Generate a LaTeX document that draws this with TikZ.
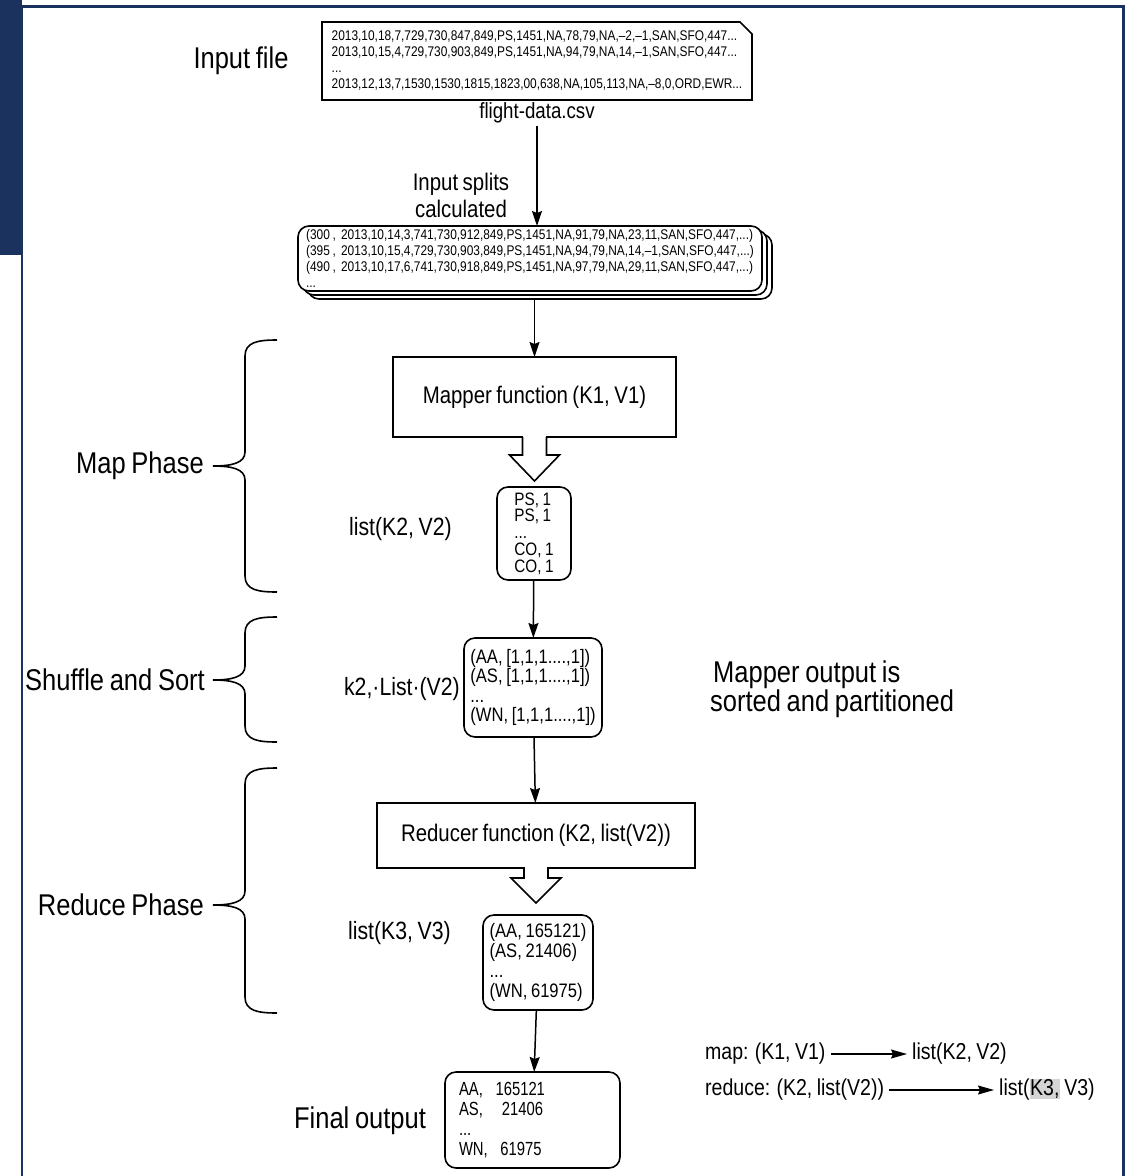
\documentclass[tikz,border=0pt]{standalone}
\usepackage{fontspec}
\setmainfont{Liberation Sans}[FakeStretch=0.85,WordSpace=0.8]
\newfontfamily\boxfont{Liberation Sans}[FakeStretch=0.78,WordSpace=0.8]
\usetikzlibrary{arrows.meta}
\definecolor{framenavy}{HTML}{1C325E}
\definecolor{markgray}{HTML}{D4D4D4}
\newcommand{\fsz}[2]{\fontsize{#1pt}{#2pt}\selectfont}
% curly brace opening to the right: top y, tip y, bottom y
\newcommand{\phasebrace}[3]{%
  \draw[bracepen] (277,#1) .. controls (258,#1) and (245,#1+2) .. (245,#1+16)
    -- (245,#2-14) .. controls (245,#2-3) and (232,#2) .. (213,#2)
    .. controls (232,#2) and (245,#2+3) .. (245,#2+14)
    -- (245,#3-16) .. controls (245,#3-2) and (258,#3) .. (277,#3);}
% open block arrow hanging under a box: node, stem length, head length
\newcommand{\hollowarrow}[3]{%
  \fill[white] ([xshift=-11.2pt,yshift=1.2pt]#1.south) rectangle ++(22.4,2.4);
  \draw[boxpen,fill=white] ([xshift=-12pt]#1.south) -- ++(0,#2) -- ++(-13,0)
    -- ++(25,#3) -- ++(25,-#3) -- ++(-13,0) -- ++(0,-#2);}
\begin{document}
\begin{tikzpicture}[x=1pt,y=-1pt,
  boxpen/.style={draw=black,line width=1.6pt},
  plainbox/.style={boxpen,fill=white,inner ysep=0pt,outer sep=0pt},
  roundbox/.style={plainbox,rounded corners=11pt},
  bigtext/.style={font=\fsz{30}{34},inner sep=0pt},
  sidelabel/.style={font=\fsz{25}{30},inner sep=0pt,anchor=east},
  formula/.style={font=\fsz{23}{27},inner xsep=5pt,inner ysep=0pt,anchor=west},
  flow/.style={line width=1.5pt,-{Stealth[length=15pt,width=10pt,inset=2pt]}},
  maparrow/.style={line width=1.4pt,-{Stealth[length=16pt,width=9pt,inset=2pt]}},
  datatext/.style={font=\fsz{14}{16},align=left},
  bracepen/.style={line width=1.6pt},
]
\useasboundingbox (0,0) rectangle (1140,1176);

% page frame
\fill[framenavy] (0,0) rectangle (22,255);
\draw[framenavy,line width=3pt] (0,6) -- (1123,6) -- (1123,1176);
\draw[framenavy,line width=2.5pt] (22,6) -- (22,1176);

% input file
\node[bigtext] (inlbl) at (241,61) {Input file};
\node[datatext,inner xsep=5pt,inner ysep=0pt,minimum width=430pt,minimum height=78pt,outer sep=0pt] (infile) at (537,61)
  {2013,10,18,7,729,730,847,849,PS,1451,NA,78,79,NA,–2,–1,SAN,SFO,447...\\
   2013,10,15,4,729,730,903,849,PS,1451,NA,94,79,NA,14,–1,SAN,SFO,447...\\
   ...\\
   2013,12,13,7,1530,1530,1815,1823,00,638,NA,105,113,NA,–8,0,ORD,EWR...};
\draw[boxpen] (infile.south west) -- (infile.north west) -- ([xshift=-12pt]infile.north east)
  -- ([yshift=-12pt]infile.north east) -- (infile.south east) -- cycle;
\node[font=\fsz{22}{26},inner sep=3pt] (fname) at (537,113) {flight-data.csv};

% input splits
\node[font=\fsz{24}{27},align=center,inner sep=0pt] (splitlbl) at (461,195) {Input splits\\calculated};
\node[roundbox,minimum width=464pt,minimum height=65pt] (splitsC) at (540,266.5) {};
\node[roundbox,minimum width=464pt,minimum height=65pt] (splitsB) at (535,262.5) {};
\node[roundbox,datatext,inner xsep=4pt,minimum width=464pt,minimum height=65pt] (splits) at (530,258.5)
  {(300 ,~~2013,10,14,3,741,730,912,849,PS,1451,NA,91,79,NA,23,11,SAN,SFO,447,...)\\
   (395 ,~~2013,10,15,4,729,730,903,849,PS,1451,NA,94,79,NA,14,–1,SAN,SFO,447,...)\\
   (490 ,~~2013,10,17,6,741,730,918,849,PS,1451,NA,97,79,NA,29,11,SAN,SFO,447,...)\\
   ...};
\draw[flow] (fname.south) -- (fname.south |- splits.north);

% map phase
\node[plainbox,font=\fsz{24}{28},minimum width=283pt,minimum height=80pt] (mapper) at (534.5,397) {Mapper function (K1, V1)};
\draw[flow] (mapper.north |- splitsC.south) -- (mapper.north);
\hollowarrow{mapper}{18}{26}
\node[roundbox,font=\fsz{18}{16.75},align=left,inner xsep=4pt,minimum width=74pt,minimum height=93pt] (kv) at (534,533.5)
  {PS, 1\\PS, 1\\...\\CO, 1\\CO, 1};
\node[sidelabel] (kvlbl) at (452,529) {list(K2, V2)};

% shuffle and sort
\node[roundbox,font=\fsz{19.5}{19.3},align=left,inner xsep=4pt,minimum width=138pt,minimum height=99pt] (shuf) at (533,687.5)
  {(AA, [1,1,1....,1])\\(AS, [1,1,1....,1])\\...\\(WN, [1,1,1....,1])};
\node[sidelabel] (shuflbl) at (460,689) {k2,·List·(V2)};
\node[font=\fsz{30}{26},align=left,anchor=west,inner sep=0pt] (sortnote) at (710,689)
  {\hspace{3pt}Mapper output is\\sorted and partitioned};
\draw[flow] (kv) -- (shuf);

% reduce phase
\node[plainbox,font=\fsz{24}{28},minimum width=318pt,minimum height=65pt] (reducer) at (536,835.5) {Reducer function (K2, list(V2))};
\draw[flow] (shuf) -- (reducer);
\hollowarrow{reducer}{10}{25}
\node[roundbox,font=\fsz{19.5}{20},align=left,inner xsep=4pt,minimum width=110pt,minimum height=95pt] (kvout) at (538,962.5)
  {(AA, 165121)\\(AS, 21406)\\...\\(WN, 61975)};
\node[sidelabel] (kvoutlbl) at (451,933) {list(K3, V3)};

% final output
\node[roundbox,font=\boxfont\fsz{19}{20},align=left,inner xsep=14pt,text width=147pt,minimum height=96pt] (final) at (532.5,1120)
  {AA,\ \ 165121\\AS,\ \ \ 21406\\...\\WN,\ \ 61975};
\node[bigtext] (finallbl) at (360,1121) {Final output};
\draw[flow] (kvout) -- (final);

% phase braces and labels
\node[bigtext,anchor=east] (maplbl) at (204,466) {Map Phase};
\node[bigtext,anchor=east] (sortlbl) at (205,680) {Shuffle and Sort};
\node[bigtext,anchor=east] (redlbl) at (204,905) {Reduce Phase};
\phasebrace{340}{466}{592}
\phasebrace{617}{680}{742}
\phasebrace{768}{905}{1013}

% signatures
\node[formula] (mapsig) at (700,1054) {map: (K1, V1)};
\node[formula] (mapres) at (907,1054) {list(K2, V2)};
\node[formula] (redsig) at (700,1090) {reduce: (K2, list(V2))};
\node[formula] (redres) at (994,1090) {list({\setlength{\fboxsep}{0.5pt}\colorbox{markgray}{K3,}} V3)};
\draw[maparrow] (mapsig) -- (mapres);
\draw[maparrow] (redsig) -- (redres);
\end{tikzpicture}
\end{document}
